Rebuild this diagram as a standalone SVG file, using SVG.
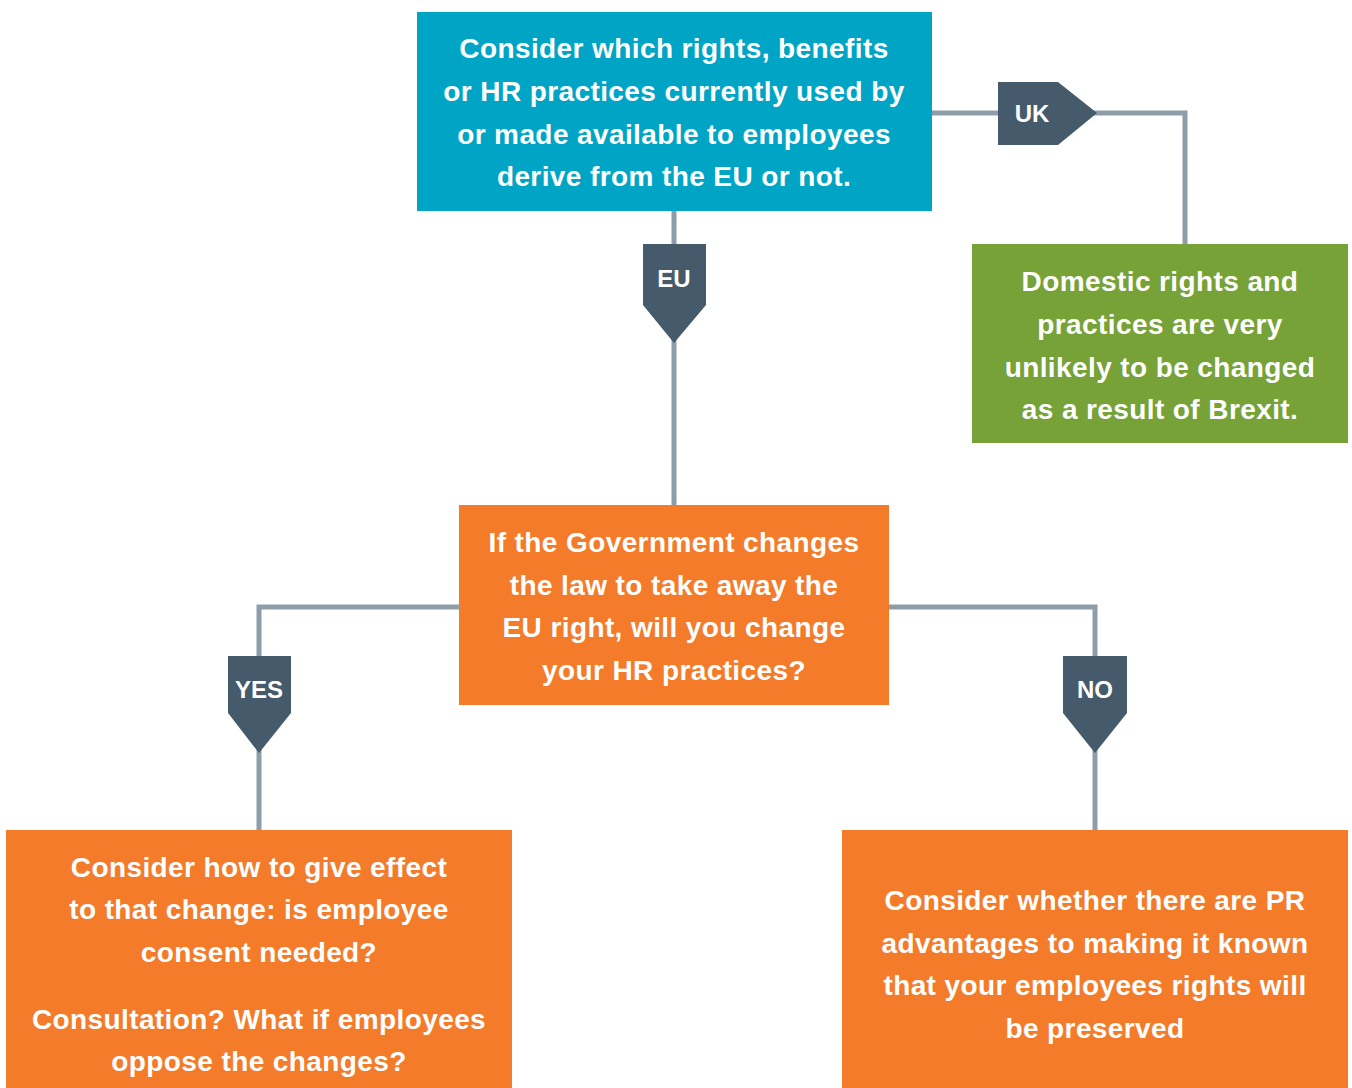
<svg xmlns="http://www.w3.org/2000/svg" width="1352" height="1088" viewBox="0 0 1352 1088">
<style>
.t{font-family:"Liberation Sans",Arial,sans-serif;font-weight:bold;font-size:28px;letter-spacing:0.4px;fill:#fff;text-anchor:middle}
.tag{font-family:"Liberation Sans",Arial,sans-serif;font-weight:bold;font-size:24px;fill:#fff;text-anchor:middle}
.c{fill:none;stroke:#8E9DAA;stroke-width:5}
.tg{fill:#455A6A}
</style>
<rect width="1352" height="1088" fill="#fff"/>
<g id="connectors">
<path class="c" d="M932 113 H1185 V244"/>
<path class="c" d="M674 211 V505"/>
<path class="c" d="M459 607 H259 V830"/>
<path class="c" d="M889 607 H1095 V830"/>
</g>
<g id="n1">
<rect x="417" y="12" width="515" height="199" fill="#00A5C5"/>
<text class="t" x="674" y="58">Consider which rights, benefits</text>
<text class="t" x="674" y="101">or HR practices currently used by</text>
<text class="t" x="674" y="144">or made available to employees</text>
<text class="t" x="674" y="186">derive from the EU or not.</text>
</g>
<g id="tag-uk">
<polygon class="tg" points="998,82 1058,82 1097,113 1058,145 998,145"/>
<text class="tag" x="1032" y="122">UK</text>
</g>
<g id="n2">
<rect x="972" y="244" width="376" height="199" fill="#76A237"/>
<text class="t" x="1160" y="291">Domestic rights and</text>
<text class="t" x="1160" y="334">practices are very</text>
<text class="t" x="1160" y="377">unlikely to be changed</text>
<text class="t" x="1160" y="419">as a result of Brexit.</text>
</g>
<g id="tag-eu">
<polygon class="tg" points="643,244 706,244 706,305 674,343 643,305"/>
<text class="tag" x="674" y="287">EU</text>
</g>
<g id="n3">
<rect x="459" y="505" width="430" height="200" fill="#F37B2A"/>
<text class="t" x="674" y="552">If the Government changes</text>
<text class="t" x="674" y="595">the law to take away the</text>
<text class="t" x="674" y="637">EU right, will you change</text>
<text class="t" x="674" y="680">your HR practices?</text>
</g>
<g id="tag-yes">
<polygon class="tg" points="228,656 291,656 291,713 259,753 228,713"/>
<text class="tag" x="259" y="698">YES</text>
</g>
<g id="tag-no">
<polygon class="tg" points="1063,656 1127,656 1127,713 1095,753 1063,713"/>
<text class="tag" x="1095" y="698">NO</text>
</g>
<g id="n4">
<rect x="6" y="830" width="506" height="258" fill="#F37B2A"/>
<text class="t" x="259" y="877">Consider how to give effect</text>
<text class="t" x="259" y="919">to that change: is employee</text>
<text class="t" x="259" y="962">consent needed?</text>
<text class="t" x="259" y="1029">Consultation? What if employees</text>
<text class="t" x="259" y="1071">oppose the changes?</text>
</g>
<g id="n5">
<rect x="842" y="830" width="506" height="258" fill="#F37B2A"/>
<text class="t" x="1095" y="910">Consider whether there are PR</text>
<text class="t" x="1095" y="953">advantages to making it known</text>
<text class="t" x="1095" y="995">that your employees rights will</text>
<text class="t" x="1095" y="1038">be preserved</text>
</g>
</svg>
